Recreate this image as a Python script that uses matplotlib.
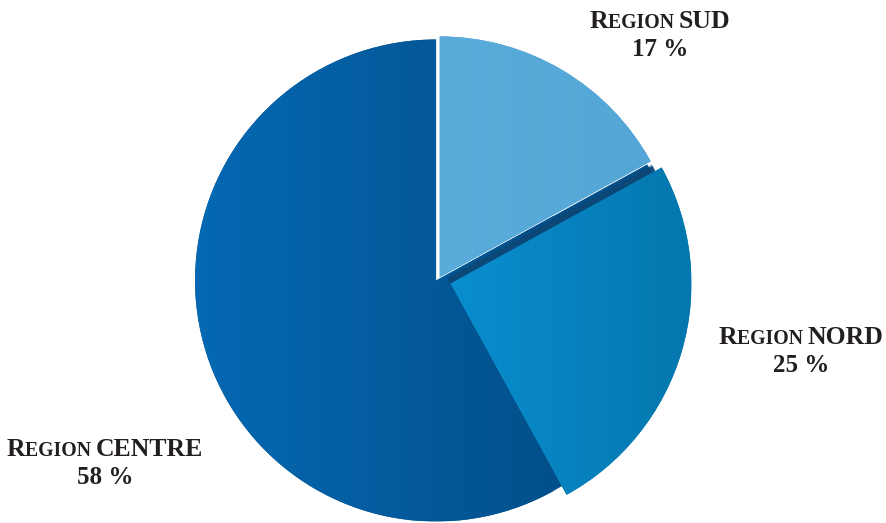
import numpy as np
import matplotlib
matplotlib.use("Agg")
import matplotlib.pyplot as plt
from matplotlib.offsetbox import TextArea, HPacker, AnchoredOffsetbox
from matplotlib.colors import LinearSegmentedColormap

# ---- data ----
regions = ["SUD", "NORD", "CENTRE"]
shares = [17, 25, 58]
pct_labels = ["17 %", "25 %", "58 %"]

# ---- style ----
W, H = 887, 523
grad_colors = [("#5aacdb", "#54a6d6"),   # SUD
               ("#0a8ecf", "#0477ae"),   # NORD
               ("#0569b3", "#02508b")]   # CENTRE
explode = [3, 13, 2]
label_pos = [(660, 21, 50), (801, 338, 366), (105, 449, 477)]
TXT = "#231f20"
FONT = "Liberation Serif"

fig = plt.figure(figsize=(W / 100, H / 100), dpi=100)
ax = fig.add_axes([0, 0, 1, 1])
cx, cy, R = 438, H - 280, 241

wedges, _ = ax.pie(shares, startangle=90, counterclock=False, radius=R,
                   center=(cx, cy), explode=explode,
                   colors=[c[0] for c in grad_colors],
                   wedgeprops=dict(linewidth=0))
ax.set_xlim(0, W)
ax.set_ylim(0, H)
ax.set_aspect("equal")
ax.axis("off")

sud, nord, centre = wedges
extents = [w.get_path().get_extents() for w in wedges]
# centre slice runs on underneath the raised NORD slice (no white gap there)
centre.set_theta2(nord.theta2)
zorders = [3, 4, 1]
for w, z in zip(wedges, zorders):
    w.set_zorder(z)

# gradient fills clipped to the wedges
for w, ext, (c0, c1) in zip(wedges, extents, grad_colors):
    cmap = LinearSegmentedColormap.from_list("g", [c0, c1])
    grad = np.linspace(0, 1, 256).reshape(1, -1)
    im = ax.imshow(grad, cmap=cmap, aspect="auto",
                   extent=(ext.x0, ext.x1, ext.y0, ext.y1),
                   zorder=w.get_zorder() + 0.1, interpolation="bicubic")
    im.set_clip_path(w)
    # keep colour beyond the extent of the original slice
    w.set_facecolor(c1)
ax.set_xlim(0, W)
ax.set_ylim(0, H)

# shadows along the raised NORD slice
nx, ny = nord.center
a_top = np.deg2rad(nord.theta2)
a_bot = np.deg2rad(nord.theta1)
perp = np.array([-np.sin(a_top), np.cos(a_top)])
for off, lw, al in [(2.5, 5, 0.95), (5.5, 3, 0.4)]:
    xs = np.array([nx, nx + 0.97 * nord.r * np.cos(a_top)]) + perp[0] * off
    ys = np.array([ny, ny + 0.97 * nord.r * np.sin(a_top)]) + perp[1] * off
    ax.plot(xs, ys, color="#0c4777", lw=lw, alpha=al, zorder=2.5,
            solid_capstyle="butt")
perp2 = np.array([np.sin(a_bot), -np.cos(a_bot)])
for off, lw, al in [(1.5, 3, 0.5), (3.5, 3, 0.2)]:
    xs = np.array([nx, nx + nord.r * np.cos(a_bot)]) - perp2[0] * off
    ys = np.array([ny, ny + nord.r * np.sin(a_bot)]) - perp2[1] * off
    ln, = ax.plot(xs, ys, color="#023a66", lw=lw, alpha=al, zorder=2,
                  solid_capstyle="butt")
    ln.set_clip_path(centre)


def place(box, x, y):
    ab = AnchoredOffsetbox(loc="center", child=box, frameon=False, pad=0,
                           borderpad=0, bbox_to_anchor=(x / W, 1 - y / H),
                           bbox_transform=fig.transFigure)
    fig.add_artist(ab)


big = dict(family=FONT, size=18.5, weight="bold", color=TXT)
small = dict(family=FONT, size=14.2, weight="bold", color=TXT)
num = dict(family=FONT, size=18, weight="bold", color=TXT)

for name, pct, (x, y1, y2) in zip(regions, pct_labels, label_pos):
    line = HPacker(children=[TextArea("R", textprops=big),
                             TextArea("EGION\u00a0", textprops=small),
                             TextArea(name, textprops=big)],
                   align="baseline", pad=0, sep=0)
    place(line, x, y1)
    place(TextArea(pct, textprops=num), x, y2)

fig.savefig("out.png", dpi=100)
